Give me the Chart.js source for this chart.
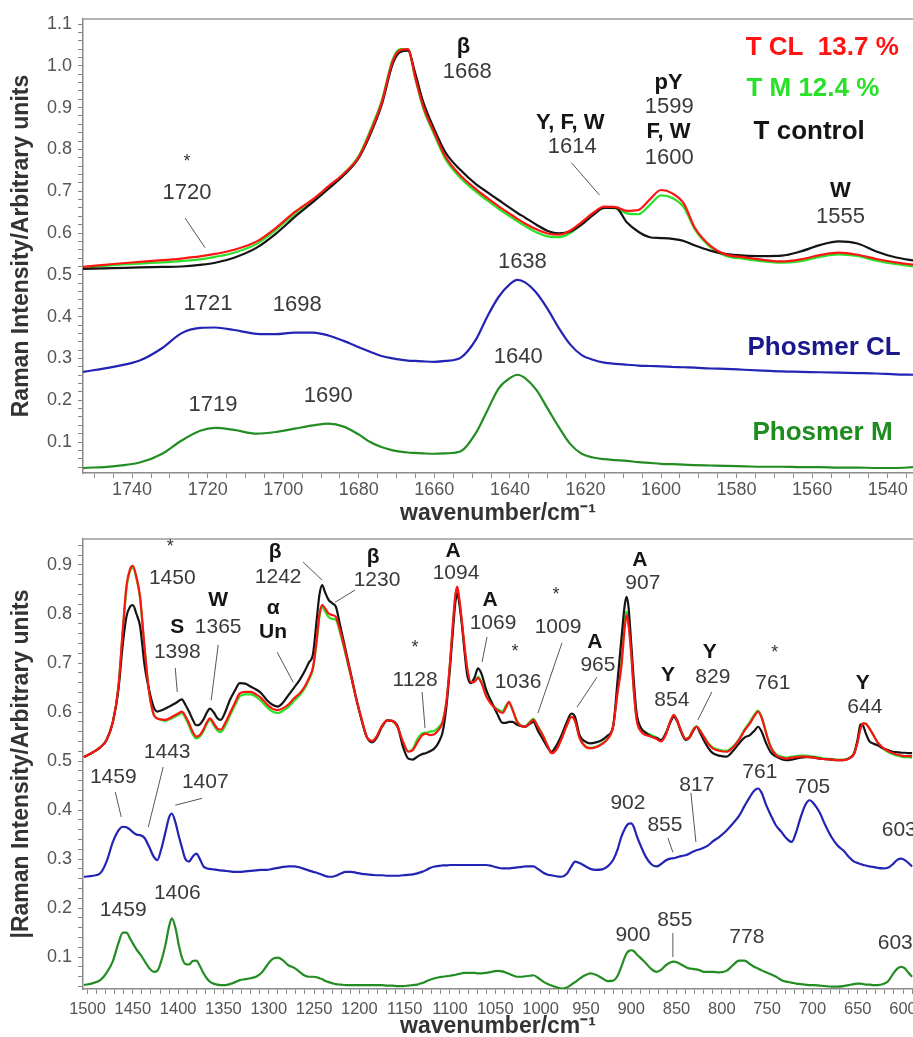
<!DOCTYPE html>
<html>
<head>
<meta charset="utf-8">
<script src="https://cdn.jsdelivr.net/npm/chart.js@4.4.1/dist/chart.umd.min.js"></script>
<style>
  body { margin: 0; background: #fff; }
  canvas { display: block; }
</style>
</head>
<body>
<canvas id="topChart" width="913" height="528"></canvas>
<canvas id="bottomChart" width="913" height="509"></canvas>
<script>
// ---- upper panel: 1753-1533 cm-1 ----
const topWavenumbers = [1753, 1745, 1738, 1732, 1727, 1722, 1718, 1713, 1707, 1702,
    1697, 1692, 1688, 1684, 1680, 1677, 1674, 1671, 1669, 1667,
    1665, 1663, 1660, 1657, 1653, 1649, 1646, 1643, 1640, 1638,
    1636, 1633, 1630, 1627, 1624, 1621, 1618, 1615, 1612, 1609,
    1606, 1603, 1600, 1597, 1594, 1591, 1587, 1583, 1578, 1573,
    1568, 1563, 1558, 1553, 1548, 1543, 1538, 1533];

const topTCL = [0.519, 0.526, 0.531, 0.535, 0.539, 0.544, 0.550, 0.560, 0.580, 0.612,
    0.650, 0.682, 0.712, 0.742, 0.782, 0.840, 0.910, 1.012, 1.038, 1.040,
    0.970, 0.905, 0.840, 0.782, 0.737, 0.705, 0.684, 0.664, 0.646, 0.634,
    0.623, 0.609, 0.599, 0.596, 0.606, 0.626, 0.648, 0.663, 0.662, 0.653,
    0.655, 0.680, 0.703, 0.695, 0.671, 0.612, 0.570, 0.549, 0.542, 0.536,
    0.532, 0.537, 0.547, 0.553, 0.548, 0.538, 0.530, 0.524];

const topTM = [0.517, 0.523, 0.527, 0.530, 0.533, 0.537, 0.543, 0.553, 0.574, 0.607,
    0.646, 0.680, 0.711, 0.742, 0.785, 0.845, 0.915, 1.016, 1.040, 1.040,
    0.968, 0.900, 0.835, 0.776, 0.731, 0.699, 0.678, 0.658, 0.640, 0.628,
    0.617, 0.602, 0.592, 0.590, 0.600, 0.622, 0.645, 0.660, 0.659, 0.647,
    0.645, 0.667, 0.690, 0.684, 0.662, 0.608, 0.567, 0.546, 0.538, 0.532,
    0.529, 0.533, 0.543, 0.549, 0.545, 0.534, 0.526, 0.520];

const topTControl = [0.514, 0.516, 0.518, 0.519, 0.520, 0.524, 0.529, 0.541, 0.565, 0.598,
    0.638, 0.675, 0.706, 0.738, 0.780, 0.835, 0.905, 1.005, 1.033, 1.036,
    0.980, 0.915, 0.848, 0.792, 0.750, 0.717, 0.698, 0.679, 0.660, 0.648,
    0.637, 0.620, 0.605, 0.599, 0.604, 0.620, 0.643, 0.660, 0.660, 0.625,
    0.603, 0.590, 0.588, 0.586, 0.581, 0.570, 0.558, 0.550, 0.546, 0.545,
    0.546, 0.556, 0.571, 0.580, 0.575, 0.556, 0.542, 0.534];

const topPhosmerCL = [0.268, 0.280, 0.295, 0.325, 0.360, 0.373, 0.374, 0.368, 0.359, 0.358,
    0.362, 0.362, 0.355, 0.342, 0.327, 0.316, 0.306, 0.300, 0.297, 0.295,
    0.294, 0.293, 0.292, 0.294, 0.302, 0.345, 0.400, 0.447, 0.478, 0.488,
    0.482, 0.457, 0.418, 0.372, 0.333, 0.308, 0.297, 0.290, 0.287, 0.285,
    0.283, 0.282, 0.281, 0.280, 0.279, 0.278, 0.276, 0.275, 0.273, 0.271,
    0.269, 0.268, 0.267, 0.266, 0.265, 0.264, 0.262, 0.261];

const topPhosmerM = [0.038, 0.042, 0.051, 0.072, 0.103, 0.127, 0.134, 0.129, 0.120, 0.124,
    0.132, 0.140, 0.144, 0.137, 0.118, 0.100, 0.088, 0.080, 0.077, 0.075,
    0.074, 0.073, 0.072, 0.073, 0.078, 0.122, 0.175, 0.228, 0.253, 0.261,
    0.253, 0.225, 0.180, 0.135, 0.095, 0.072, 0.063, 0.059, 0.057, 0.055,
    0.052, 0.050, 0.048, 0.047, 0.046, 0.045, 0.044, 0.043, 0.042, 0.041,
    0.041, 0.040, 0.040, 0.039, 0.039, 0.038, 0.038, 0.040];

// ---- lower panel: 1505-589 cm-1 ----
const bottomWavenumbers = [1504, 1494, 1486, 1479, 1472, 1466, 1461, 1457, 1453, 1450,
    1446, 1442, 1437, 1432, 1427, 1423, 1419, 1414, 1410, 1407,
    1403, 1399, 1396, 1392, 1388, 1384, 1380, 1376, 1372, 1368,
    1365, 1361, 1357, 1353, 1348, 1343, 1337, 1332, 1326, 1320,
    1314, 1308, 1302, 1296, 1290, 1284, 1278, 1272, 1266, 1261,
    1256, 1251, 1247, 1244, 1241, 1238, 1234, 1230, 1226, 1221,
    1215, 1209, 1203, 1197, 1192, 1186, 1181, 1175, 1169, 1164,
    1158, 1152, 1146, 1141, 1136, 1131, 1127, 1122, 1117, 1112,
    1108, 1104, 1100, 1097, 1094, 1092, 1090, 1087, 1084, 1081,
    1077, 1073, 1069, 1065, 1060, 1054, 1048, 1042, 1038, 1035,
    1031, 1026, 1021, 1017, 1012, 1008, 1003, 997, 992, 988,
    983, 977, 971, 966, 962, 957, 951, 945, 939, 932,
    926, 920, 915, 911, 907, 905, 903, 900, 897, 894,
    889, 884, 878, 872, 867, 862, 857, 853, 849, 845,
    840, 836, 832, 828, 824, 820, 815, 810, 803, 795,
    788, 781, 775, 769, 764, 760, 756, 751, 746, 740,
    734, 729, 723, 718, 713, 708, 703, 698, 692, 686,
    679, 672, 666, 660, 654, 650, 647, 644, 641, 637,
    633, 628, 622, 616, 611, 606, 602, 598, 594, 590];

const bottomTCL = [0.508, 0.518, 0.528, 0.543, 0.580, 0.650, 0.770, 0.858, 0.892, 0.898,
    0.875, 0.835, 0.730, 0.640, 0.595, 0.587, 0.585, 0.584, 0.587, 0.590,
    0.594, 0.598, 0.601, 0.592, 0.577, 0.560, 0.550, 0.553, 0.565, 0.580,
    0.587, 0.578, 0.567, 0.564, 0.578, 0.597, 0.620, 0.638, 0.641, 0.641,
    0.636, 0.628, 0.616, 0.607, 0.604, 0.608, 0.616, 0.628, 0.638, 0.650,
    0.668, 0.693, 0.750, 0.800, 0.818, 0.812, 0.801, 0.798, 0.794, 0.765,
    0.720, 0.672, 0.624, 0.582, 0.550, 0.541, 0.550, 0.572, 0.583, 0.582,
    0.570, 0.540, 0.519, 0.522, 0.538, 0.552, 0.556, 0.553, 0.555, 0.565,
    0.580, 0.620, 0.700, 0.775, 0.840, 0.856, 0.835, 0.788, 0.735, 0.690,
    0.661, 0.662, 0.669, 0.658, 0.632, 0.615, 0.604, 0.598, 0.610, 0.621,
    0.605, 0.580, 0.571, 0.570, 0.578, 0.584, 0.570, 0.550, 0.530, 0.516,
    0.522, 0.545, 0.573, 0.590, 0.582, 0.547, 0.530, 0.526, 0.528, 0.535,
    0.545, 0.570, 0.640, 0.690, 0.775, 0.798, 0.780, 0.720, 0.640, 0.584,
    0.560, 0.553, 0.550, 0.545, 0.540, 0.553, 0.580, 0.594, 0.582, 0.562,
    0.545, 0.548, 0.562, 0.570, 0.562, 0.550, 0.535, 0.526, 0.521, 0.519,
    0.527, 0.543, 0.562, 0.577, 0.592, 0.601, 0.588, 0.556, 0.528, 0.512,
    0.507, 0.505, 0.507, 0.508, 0.509, 0.509, 0.508, 0.507, 0.505, 0.504,
    0.503, 0.502, 0.502, 0.505, 0.515, 0.540, 0.566, 0.577, 0.576, 0.566,
    0.554, 0.538, 0.527, 0.520, 0.516, 0.513, 0.511, 0.510, 0.510, 0.510];

const bottomTM = [0.508, 0.518, 0.528, 0.543, 0.580, 0.650, 0.765, 0.852, 0.888, 0.894,
    0.872, 0.832, 0.728, 0.640, 0.595, 0.587, 0.584, 0.582, 0.585, 0.587,
    0.591, 0.595, 0.598, 0.588, 0.572, 0.555, 0.546, 0.550, 0.561, 0.577,
    0.584, 0.574, 0.563, 0.559, 0.572, 0.592, 0.615, 0.632, 0.636, 0.636,
    0.631, 0.622, 0.610, 0.601, 0.598, 0.603, 0.611, 0.623, 0.634, 0.646,
    0.664, 0.690, 0.745, 0.795, 0.814, 0.806, 0.794, 0.790, 0.788, 0.760,
    0.716, 0.670, 0.623, 0.582, 0.550, 0.541, 0.550, 0.572, 0.583, 0.582,
    0.570, 0.540, 0.520, 0.525, 0.545, 0.556, 0.558, 0.560, 0.562, 0.570,
    0.582, 0.620, 0.698, 0.772, 0.836, 0.852, 0.832, 0.785, 0.733, 0.688,
    0.660, 0.662, 0.672, 0.660, 0.634, 0.617, 0.606, 0.602, 0.614, 0.618,
    0.605, 0.582, 0.572, 0.571, 0.580, 0.586, 0.571, 0.551, 0.530, 0.517,
    0.523, 0.545, 0.573, 0.590, 0.582, 0.548, 0.531, 0.527, 0.529, 0.536,
    0.546, 0.571, 0.642, 0.700, 0.790, 0.805, 0.782, 0.722, 0.642, 0.587,
    0.565, 0.558, 0.553, 0.548, 0.542, 0.554, 0.580, 0.594, 0.582, 0.562,
    0.546, 0.549, 0.563, 0.571, 0.563, 0.551, 0.537, 0.528, 0.523, 0.521,
    0.529, 0.545, 0.564, 0.580, 0.595, 0.603, 0.590, 0.558, 0.530, 0.514,
    0.509, 0.507, 0.509, 0.510, 0.511, 0.511, 0.510, 0.509, 0.507, 0.505,
    0.504, 0.503, 0.503, 0.506, 0.515, 0.540, 0.566, 0.577, 0.576, 0.566,
    0.554, 0.538, 0.525, 0.518, 0.514, 0.511, 0.509, 0.508, 0.508, 0.507];

const bottomTControl = [0.508, 0.518, 0.528, 0.543, 0.580, 0.645, 0.740, 0.795, 0.815, 0.818,
    0.800, 0.775, 0.695, 0.645, 0.610, 0.601, 0.603, 0.607, 0.611, 0.614,
    0.618, 0.623, 0.626, 0.615, 0.601, 0.585, 0.573, 0.575, 0.585, 0.600,
    0.607, 0.600, 0.588, 0.584, 0.600, 0.624, 0.645, 0.659, 0.658, 0.652,
    0.646, 0.638, 0.624, 0.615, 0.611, 0.620, 0.635, 0.650, 0.665, 0.681,
    0.700, 0.720, 0.790, 0.840, 0.859, 0.845, 0.829, 0.822, 0.815, 0.775,
    0.725, 0.675, 0.624, 0.580, 0.550, 0.538, 0.547, 0.570, 0.583, 0.582,
    0.572, 0.530, 0.505, 0.503, 0.509, 0.514, 0.516, 0.520, 0.526, 0.540,
    0.560, 0.610, 0.690, 0.760, 0.825, 0.842, 0.825, 0.781, 0.725, 0.676,
    0.659, 0.670, 0.689, 0.677, 0.645, 0.620, 0.597, 0.578, 0.578, 0.580,
    0.580, 0.574, 0.571, 0.570, 0.576, 0.580, 0.562, 0.543, 0.527, 0.519,
    0.530, 0.552, 0.580, 0.597, 0.590, 0.553, 0.540, 0.536, 0.538, 0.543,
    0.552, 0.570, 0.665, 0.745, 0.820, 0.835, 0.815, 0.740, 0.660, 0.597,
    0.567, 0.558, 0.550, 0.547, 0.543, 0.556, 0.578, 0.590, 0.580, 0.560,
    0.543, 0.547, 0.560, 0.570, 0.558, 0.543, 0.527, 0.516, 0.511, 0.509,
    0.520, 0.536, 0.548, 0.553, 0.562, 0.570, 0.560, 0.536, 0.518, 0.509,
    0.504, 0.502, 0.503, 0.505, 0.507, 0.508, 0.508, 0.507, 0.505, 0.504,
    0.503, 0.502, 0.502, 0.505, 0.516, 0.545, 0.575, 0.572, 0.556, 0.540,
    0.536, 0.532, 0.526, 0.522, 0.519, 0.518, 0.517, 0.517, 0.516, 0.516];

const bottomPhosmerCL = [0.264, 0.266, 0.271, 0.295, 0.335, 0.358, 0.366, 0.365, 0.360, 0.355,
    0.350, 0.349, 0.343, 0.325, 0.305, 0.298, 0.318, 0.355, 0.385, 0.393,
    0.375, 0.345, 0.325, 0.300, 0.295, 0.305, 0.311, 0.300, 0.285, 0.281,
    0.280, 0.279, 0.278, 0.277, 0.276, 0.275, 0.274, 0.274, 0.275, 0.276,
    0.277, 0.278, 0.278, 0.280, 0.282, 0.284, 0.285, 0.285, 0.283, 0.280,
    0.277, 0.274, 0.272, 0.270, 0.268, 0.266, 0.264, 0.264, 0.266, 0.270,
    0.274, 0.274, 0.272, 0.270, 0.269, 0.268, 0.267, 0.267, 0.266, 0.266,
    0.266, 0.267, 0.268, 0.269, 0.271, 0.274, 0.277, 0.282, 0.285, 0.286,
    0.287, 0.287, 0.288, 0.288, 0.288, 0.288, 0.288, 0.288, 0.288, 0.288,
    0.288, 0.288, 0.288, 0.288, 0.288, 0.286, 0.283, 0.281, 0.281, 0.281,
    0.282, 0.283, 0.284, 0.285, 0.285, 0.285, 0.280, 0.272, 0.268, 0.267,
    0.265, 0.264, 0.270, 0.285, 0.295, 0.292, 0.286, 0.280, 0.278, 0.279,
    0.285, 0.298, 0.320, 0.345, 0.362, 0.368, 0.372, 0.373, 0.365, 0.348,
    0.325, 0.305, 0.290, 0.285, 0.290, 0.297, 0.301, 0.302, 0.304, 0.306,
    0.308, 0.311, 0.315, 0.318, 0.320, 0.323, 0.328, 0.336, 0.345, 0.358,
    0.372, 0.388, 0.408, 0.427, 0.440, 0.444, 0.435, 0.410, 0.390, 0.368,
    0.355, 0.343, 0.335, 0.355, 0.385, 0.410, 0.420, 0.412, 0.395, 0.370,
    0.345, 0.327, 0.318, 0.305, 0.295, 0.292, 0.290, 0.288, 0.287, 0.285,
    0.284, 0.282, 0.281, 0.283, 0.290, 0.299, 0.301, 0.298, 0.292, 0.285];

const bottomPhosmerM = [0.043, 0.047, 0.053, 0.068, 0.092, 0.128, 0.150, 0.150, 0.138, 0.128,
    0.116, 0.106, 0.092, 0.078, 0.070, 0.072, 0.090, 0.125, 0.163, 0.179,
    0.160, 0.122, 0.100, 0.086, 0.085, 0.092, 0.093, 0.082, 0.067, 0.056,
    0.050, 0.046, 0.044, 0.043, 0.043, 0.045, 0.049, 0.053, 0.055, 0.057,
    0.060, 0.068, 0.083, 0.096, 0.099, 0.093, 0.083, 0.078, 0.070, 0.063,
    0.060, 0.060, 0.059, 0.057, 0.055, 0.052, 0.049, 0.047, 0.045, 0.044,
    0.043, 0.043, 0.043, 0.043, 0.043, 0.043, 0.043, 0.043, 0.042, 0.042,
    0.041, 0.041, 0.042, 0.043, 0.044, 0.047, 0.050, 0.054, 0.057, 0.059,
    0.060, 0.061, 0.062, 0.063, 0.064, 0.065, 0.066, 0.067, 0.068, 0.068,
    0.068, 0.068, 0.067, 0.067, 0.068, 0.070, 0.072, 0.071, 0.068, 0.066,
    0.063, 0.060, 0.060, 0.061, 0.062, 0.063, 0.058, 0.050, 0.045, 0.042,
    0.039, 0.036, 0.038, 0.044, 0.049, 0.056, 0.063, 0.067, 0.064, 0.057,
    0.051, 0.052, 0.062, 0.080, 0.100, 0.108, 0.112, 0.114, 0.112, 0.106,
    0.097, 0.088, 0.076, 0.070, 0.074, 0.083, 0.089, 0.091, 0.089, 0.085,
    0.080, 0.077, 0.076, 0.075, 0.073, 0.070, 0.070, 0.070, 0.069, 0.072,
    0.083, 0.093, 0.093, 0.086, 0.080, 0.077, 0.073, 0.069, 0.065, 0.060,
    0.053, 0.050, 0.048, 0.046, 0.045, 0.044, 0.043, 0.043, 0.042, 0.041,
    0.040, 0.040, 0.041, 0.043, 0.045, 0.046, 0.046, 0.045, 0.044, 0.044,
    0.043, 0.043, 0.045, 0.052, 0.066, 0.077, 0.080, 0.077, 0.068, 0.060];

const seriesNames = ['T CL', 'T control', 'T M', 'Phosmer CL', 'Phosmer M'];
const seriesColors = ['rgb(255, 20, 20)', 'rgb(20, 20, 20)', 'rgb(40, 225, 40)', 'rgb(35, 35, 180)', 'rgb(35, 140, 35)'];

// peak labels, placed in data coordinates: [wavenumber, intensity, text, style]
const topLabels = [
    [1725.5, 0.770, '*', 'star'], [1725.5, 0.696, '1720', 'num'],
    [1652.3, 1.045, 'β', 'bold'], [1651.3, 0.986, '1668', 'num'],
    [1624.0, 0.864, 'Y, F, W', 'bold'], [1623.5, 0.806, '1614', 'num'],
    [1598.0, 0.959, 'pY', 'bold'], [1597.8, 0.902, '1599', 'num'],
    [1598.0, 0.842, 'F, W', 'bold'], [1597.8, 0.780, '1600', 'num'],
    [1552.5, 0.701, 'W', 'bold'], [1552.5, 0.639, '1555', 'num'],
    [1636.7, 0.531, '1638', 'num'], [1637.8, 0.304, '1640', 'num'],
    [1719.9, 0.431, '1721', 'num'], [1696.3, 0.428, '1698', 'num'],
    [1718.6, 0.189, '1719', 'num'], [1688.1, 0.211, '1690', 'num'],
];
const topLeaders = [
    [1726.0, 0.636, 1720.7, 0.565],
    [1623.7, 0.768, 1616.3, 0.691],
];
const topLegend = [
    [1577.6, 1.043, 'T CL  13.7 %', 'rgb(255, 20, 20)'],
    [1577.4, 0.945, 'T M 12.4 %', 'rgb(40, 225, 40)'],
    [1575.5, 0.842, 'T control', 'rgb(20, 20, 20)'],
    [1577.1, 0.325, 'Phosmer CL', 'rgb(25, 25, 140)'],
    [1575.8, 0.122, 'Phosmer M', 'rgb(30, 140, 30)'],
];

const bottomLabels = [
    [1408.7, 0.937, '*', 'star'], [1406.5, 0.873, '1450', 'num'],
    [1292.9, 0.927, 'β', 'bold'], [1289.6, 0.876, '1242', 'num'],
    [1184.9, 0.916, 'β', 'bold'], [1180.5, 0.869, '1230', 'num'],
    [1355.8, 0.829, 'W', 'bold'], [1355.8, 0.773, '1365', 'num'],
    [1401.0, 0.773, 'S', 'bold'], [1401.0, 0.722, '1398', 'num'],
    [1295.2, 0.812, 'α', 'bold'], [1295.2, 0.763, 'Un', 'bold'],
    [1138.5, 0.731, '*', 'star'], [1138.5, 0.665, '1128', 'num'],
    [1412.1, 0.518, '1443', 'num'], [1471.6, 0.467, '1459', 'num'],
    [1370.1, 0.457, '1407', 'num'], [1460.6, 0.196, '1459', 'num'],
    [1401.0, 0.231, '1406', 'num'],
    [1096.6, 0.929, 'A', 'bold'], [1093.3, 0.884, '1094', 'num'],
    [1055.8, 0.829, 'A', 'bold'], [1052.5, 0.782, '1069', 'num'],
    [1028.3, 0.722, '*', 'star'], [1024.9, 0.661, '1036', 'num'],
    [983.0, 0.839, '*', 'star'], [980.8, 0.773, '1009', 'num'],
    [940.0, 0.743, 'A', 'bold'], [936.7, 0.696, '965', 'num'],
    [890.4, 0.910, 'A', 'bold'], [887.1, 0.863, '907', 'num'],
    [859.5, 0.676, 'Y', 'bold'], [855.1, 0.624, '854', 'num'],
    [813.2, 0.722, 'Y', 'bold'], [809.9, 0.671, '829', 'num'],
    [741.5, 0.720, '*', 'star'], [743.7, 0.659, '761', 'num'],
    [644.4, 0.659, 'Y', 'bold'], [642.2, 0.610, '644', 'num'],
    [758.0, 0.478, '761', 'num'], [699.6, 0.447, '705', 'num'],
    [903.6, 0.414, '902', 'num'], [862.8, 0.369, '855', 'num'],
    [827.5, 0.451, '817', 'num'], [623.5, 0.359, '603', 'numLeft'],
    [898.1, 0.145, '900', 'num'], [851.8, 0.176, '855', 'num'],
    [772.4, 0.141, '778', 'num'], [627.9, 0.129, '603', 'numLeft'],
];
const bottomLeaders = [
    [1262.1, 0.906, 1241.1, 0.869], [1204.7, 0.849, 1226.8, 0.824],
    [1355.8, 0.737, 1363.5, 0.624], [1403.2, 0.690, 1401.0, 0.641],
    [1290.7, 0.722, 1273.1, 0.661], [1130.8, 0.641, 1127.5, 0.567],
    [1416.5, 0.488, 1433.0, 0.365], [1469.4, 0.437, 1462.8, 0.386],
    [1373.5, 0.424, 1403.2, 0.410], [1059.1, 0.753, 1064.6, 0.702],
    [976.4, 0.741, 1002.9, 0.598], [937.8, 0.671, 959.8, 0.610],
    [811.0, 0.641, 826.4, 0.584], [859.5, 0.343, 854.0, 0.314],
    [834.1, 0.435, 828.6, 0.335], [854.0, 0.149, 854.0, 0.100],
];

const FONT = '"Liberation Sans", Arial, sans-serif';
Chart.defaults.font.family = FONT;

function makeDatasets(wavenumbers, seriesList) {
    return seriesList.map((values, i) => ({
        label: seriesNames[i],
        data: wavenumbers.map((x, j) => ({ x: x, y: values[j] })),
        borderColor: seriesColors[i],
        borderWidth: 2.2,
        pointRadius: 0,
        fill: false,
        cubicInterpolationMode: 'monotone'
    }));
}

function notesPlugin(labels, leaders, legend, numSize) {
    return {
        id: 'notes',
        afterDatasetsDraw(chart) {
            const ctx = chart.ctx;
            const xs = chart.scales.x;
            const ys = chart.scales.y;
            const a = chart.chartArea;
            ctx.save();
            // frame line along the top
            ctx.strokeStyle = '#9a9a9a';
            ctx.lineWidth = 1.5;
            ctx.beginPath();
            ctx.moveTo(a.left, a.top);
            ctx.lineTo(a.right, a.top);
            ctx.stroke();

            ctx.strokeStyle = '#555';
            ctx.lineWidth = 1;
            leaders.forEach(l => {
                ctx.beginPath();
                ctx.moveTo(xs.getPixelForValue(l[0]), ys.getPixelForValue(l[1]));
                ctx.lineTo(xs.getPixelForValue(l[2]), ys.getPixelForValue(l[3]));
                ctx.stroke();
            });

            ctx.textBaseline = 'middle';
            labels.forEach(n => {
                const style = n[3];
                ctx.textAlign = style === 'numLeft' ? 'left' : 'center';
                if (style === 'bold') {
                    ctx.font = 'bold ' + numSize + 'px ' + FONT;
                    ctx.fillStyle = '#151515';
                } else if (style === 'star') {
                    ctx.font = '18px ' + FONT;
                    ctx.fillStyle = '#333';
                } else {
                    ctx.font = numSize + 'px ' + FONT;
                    ctx.fillStyle = '#3a3a3a';
                }
                ctx.fillText(n[2], xs.getPixelForValue(n[0]), ys.getPixelForValue(n[1]));
            });

            ctx.textAlign = 'left';
            ctx.font = 'bold 26px ' + FONT;
            legend.forEach(g => {
                ctx.fillStyle = g[3];
                ctx.fillText(g[2], xs.getPixelForValue(g[0]), ys.getPixelForValue(g[1]));
            });
            ctx.restore();
        }
    };
}

function onStep(v, step) {
    return Math.abs(v / step - Math.round(v / step)) < 1e-6;
}

function xAxis(min, max, step, every, size, pad, height, titleLine) {
    return {
        type: 'linear',
        reverse: true,
        min: min,
        max: max,
        border: { color: '#8a8a8a', width: 1.5 },
        grid: { drawOnChartArea: false, tickLength: 5, color: '#8a8a8a' },
        afterBuildTicks: axis => { axis.ticks = axis.ticks.filter(t => onStep(t.value, step)); },
        afterFit: axis => {
            axis.height = height;
            axis.paddingLeft = 0;
            axis.paddingRight = 0;
        },
        ticks: {
            stepSize: step,
            includeBounds: false,
            autoSkip: false,
            maxRotation: 0,
            padding: pad,
            color: '#555',
            font: { size: size },
            callback: v => (onStep(v, every) ? String(Math.round(v)) : '')
        },
        title: {
            display: true,
            text: 'wavenumber/cm⁻¹',
            color: '#333',
            font: { size: 23, weight: 'bold', lineHeight: titleLine },
            padding: { top: 0, bottom: 0 }
        }
    };
}

function yAxis(min, max, title) {
    return {
        min: min,
        max: max,
        border: { color: '#8a8a8a', width: 1.5 },
        grid: { drawOnChartArea: false, tickLength: 5, color: '#8a8a8a' },
        afterBuildTicks: axis => { axis.ticks = axis.ticks.filter(t => onStep(t.value, 0.02)); },
        afterFit: axis => {
            axis.width = 83;
            axis.paddingTop = 0;
            axis.paddingBottom = 0;
        },
        ticks: {
            stepSize: 0.02,
            includeBounds: false,
            autoSkip: false,
            padding: 6,
            color: '#555',
            font: { size: 18 },
            callback: v => (onStep(v, 0.1) ? v.toFixed(1) : '')
        },
        title: {
            display: true,
            text: title,
            color: '#333',
            font: { size: 23, weight: 'bold' },
            padding: { top: 8, bottom: 0 }
        }
    };
}

let topConfig = {
    type: 'line',
    data: {
        datasets: makeDatasets(topWavenumbers, [topTCL, topTControl, topTM, topPhosmerCL, topPhosmerM])
    },
    options: {
        responsive: false,
        animation: false,
        layout: { padding: { top: 19, right: 0, left: 0, bottom: 0 } },
        plugins: { legend: { display: false }, tooltip: { enabled: false } },
        scales: {
            x: xAxis(1533.3, 1753, 5, 20, 18, 1, 55, 1.25),
            y: yAxis(0.026, 1.112, 'Raman Intensity/Arbitrary units')
        }
    },
    plugins: [notesPlugin(topLabels, topLeaders, topLegend, 22)]
};

let bottomConfig = {
    type: 'line',
    data: {
        datasets: makeDatasets(bottomWavenumbers, [bottomTCL, bottomTControl, bottomTM, bottomPhosmerCL, bottomPhosmerM])
    },
    options: {
        responsive: false,
        animation: false,
        layout: { padding: { top: 11, right: 0, left: 0, bottom: 0 } },
        plugins: { legend: { display: false }, tooltip: { enabled: false } },
        scales: {
            x: xAxis(589, 1505, 10, 50, 16.5, 6, 48, 0.87),
            y: yAxis(0.035, 0.953, '|Raman Intensity/Arbitrary units')
        }
    },
    plugins: [notesPlugin(bottomLabels, bottomLeaders, [], 21)]
};

let topChart = new Chart(document.getElementById('topChart'), topConfig);
let bottomChart = new Chart(document.getElementById('bottomChart'), bottomConfig);
</script>
</body>
</html>
